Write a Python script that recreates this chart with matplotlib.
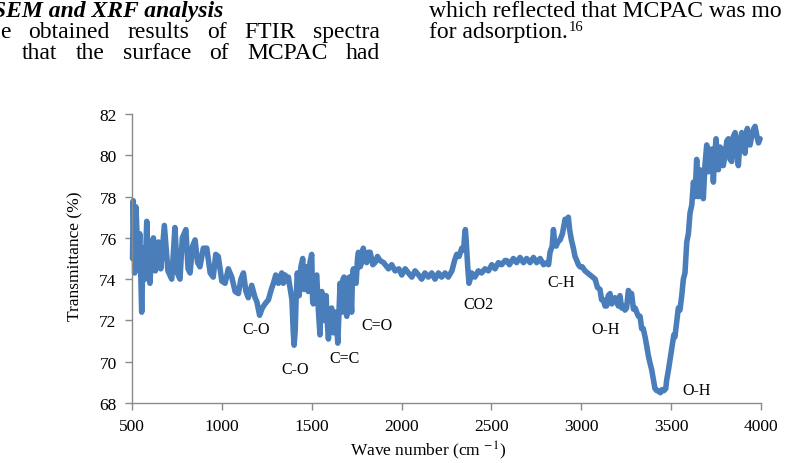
import matplotlib.pyplot as plt

# FTIR spectrum of MCPAC
wave_number = [
    503, 507, 515, 522, 535, 543, 554, 562, 572, 582, 590, 600, 610, 619, 630, 647, 660, 680, 700, 721,
    739, 752, 767, 780, 800, 812, 823, 837, 851, 865, 878, 897, 916, 935, 952, 966, 980, 1000, 1018, 1036,
    1055, 1074, 1092, 1106, 1120, 1134, 1147, 1166, 1185, 1195, 1210, 1225, 1240, 1259, 1275, 1287, 1300,
    1315, 1333, 1342, 1352, 1361, 1370, 1379, 1390, 1397, 1402, 1408, 1413, 1420, 1430, 1440, 1450, 1457,
    1463, 1472, 1481, 1490, 1500, 1505, 1509, 1518, 1528, 1537, 1546, 1552, 1556, 1565, 1574, 1580, 1586,
    1593, 1602, 1611, 1620, 1628, 1635, 1645, 1652, 1658, 1667, 1674, 1680, 1688, 1695, 1700, 1710, 1722,
    1727, 1732, 1740, 1747, 1755, 1760, 1770, 1778, 1787, 1797, 1806, 1815, 1825, 1840, 1852, 1866, 1880,
    1900, 1927, 1945, 1964, 1985, 2001, 2020, 2038, 2057, 2075, 2095, 2112, 2130, 2149, 2168, 2186, 2205,
    2223, 2242, 2260, 2280, 2295, 2307, 2320, 2335, 2345, 2350, 2355, 2360, 2368, 2375, 2382, 2390, 2408,
    2427, 2445, 2464, 2483, 2502, 2520, 2539, 2557, 2576, 2585, 2600, 2622, 2640, 2659, 2678, 2696, 2715,
    2734, 2752, 2771, 2790, 2808, 2818, 2826, 2838, 2845, 2852, 2860, 2870, 2882, 2895, 2910, 2920, 2928,
    2935, 2945, 2956, 2965, 2975, 2984, 2993, 3005, 3021, 3035, 3049, 3063, 3077, 3090, 3104, 3113, 3123,
    3132, 3141, 3150, 3160, 3170, 3178, 3188, 3197, 3206, 3215, 3225, 3234, 3243, 3252, 3262, 3271, 3280,
    3290, 3300, 3308, 3318, 3327, 3336, 3345, 3355, 3364, 3373, 3382, 3392, 3401, 3410, 3420, 3429, 3440,
    3450, 3460, 3470, 3475, 3485, 3494, 3505, 3515, 3521, 3532, 3540, 3549, 3559, 3568, 3577, 3587, 3596,
    3605, 3615, 3624, 3633, 3642, 3652, 3660, 3670, 3679, 3688, 3698, 3707, 3717, 3726, 3735, 3742, 3750,
    3757, 3763, 3772, 3781, 3790, 3800, 3810, 3819, 3828, 3837, 3846, 3856, 3865, 3874, 3883, 3893, 3902,
    3911, 3918, 3924, 3932, 3939, 3950, 3960, 3967, 3978, 3986, 3995,
]
transmittance = [
    75.0, 77.8, 74.3, 77.5, 74.6, 76.2, 72.4, 75.5, 74.0, 76.8, 74.5, 73.8, 75.5, 76.0, 74.4, 75.8, 74.5, 76.6, 74.4, 74.0,
    76.5, 74.3, 74.0, 76.0, 76.4, 74.5, 74.3, 75.6, 75.9, 74.8, 74.6, 75.5, 75.5, 74.3, 74.1, 75.2, 75.1, 73.9, 73.8, 74.5,
    74.1, 73.4, 73.3, 74.0, 74.3, 73.4, 73.1, 73.7, 73.1, 72.9, 72.25, 72.6, 72.8, 73.0, 73.5, 73.8, 74.2,
    73.8, 74.3, 73.8, 74.2, 73.9, 74.1, 73.6, 73.0, 71.5, 70.8, 71.5, 73.0, 74.3, 73.2, 74.6, 75.0, 73.5,
    73.7, 74.6, 73.4, 74.8, 75.2, 73.0, 72.8, 74.0, 74.2, 72.5, 71.3, 73.2, 73.4, 72.0, 72.1, 73.2, 72.0,
    71.1, 72.5, 72.6, 71.4, 72.4, 72.4, 70.9, 72.5, 73.8, 72.4, 74.0, 74.1, 72.5, 72.2, 74.0, 74.1, 72.4,
    74.2, 74.5, 73.9, 73.8, 75.0, 75.3, 74.6, 74.8, 75.5, 74.9, 74.8, 75.3, 75.3, 74.7, 74.8, 75.1, 74.9,
    74.8, 74.5, 74.7, 74.4, 74.5, 74.2, 74.5, 74.3, 74.1, 74.4, 74.2, 74.0, 74.3, 74.1, 74.3, 74.0, 74.3,
    74.1, 74.3, 74.1, 74.4, 74.9, 75.2, 75.1, 75.5, 75.4, 76.0, 76.4, 75.8, 74.6, 73.8, 74.0, 74.3, 74.1,
    74.4, 74.3, 74.5, 74.4, 74.7, 74.5, 74.8, 74.7, 74.9, 74.9, 74.7, 75.0, 74.8, 75.05, 74.8, 75.0, 74.8,
    75.05, 74.8, 75.0, 74.7, 74.8, 74.7, 75.3, 75.6, 76.4, 75.8, 75.6, 75.8, 75.9, 76.2, 76.9, 76.7, 77.0,
    76.4, 75.9, 75.5, 75.1, 74.9, 74.7, 74.6, 74.6, 74.4, 74.3, 74.2, 74.1, 74.0, 73.6, 73.5, 73.0, 73.0,
    72.7, 72.7, 73.2, 73.3, 72.8, 72.9, 73.1, 73.0, 72.7, 73.2, 72.6, 72.7, 72.5, 72.6, 73.45, 73.3, 73.3,
    72.55, 72.6, 72.4, 72.2, 72.2, 71.6, 71.6, 71.2, 70.77, 70.3, 69.95, 69.6, 69.16, 68.7, 68.6, 68.6, 68.5,
    68.65, 68.6, 68.7, 69.1, 69.6, 70.1, 70.7, 71.3, 71.2, 72.0, 72.6, 72.5, 73.2, 74.0, 74.3, 75.8, 76.2,
    77.2, 77.6, 78.7, 78.0, 79.8, 78.0, 79.3, 79.0, 77.9, 79.5, 80.5, 79.2, 79.6, 80.3, 78.7, 80.0, 80.8,
    79.5, 79.3, 80.4, 80.3, 79.5, 80.0, 80.7, 80.8, 79.8, 79.7, 80.9, 81.1, 80.2, 79.5, 80.7, 81.1, 80.3,
    80.1, 80.9, 81.3, 80.6, 80.5, 81.0, 81.3, 81.4, 80.9, 80.6, 80.8,
]

# band labels and where they sit (wave number, transmittance)
band_labels = ['C-O', 'C-O', 'C=C', 'C=O', 'CO2', 'C-H', 'O-H', 'O-H']
band_x = [1192, 1407, 1685, 1865, 2427, 2886, 3138, 3642]
band_y = [71.6, 69.65, 70.2, 71.8, 72.8, 73.85, 71.6, 68.65]

plt.rcParams['font.family'] = 'Liberation Serif'
plt.rcParams['mathtext.fontset'] = 'stix'

W, H = 787, 464
fig = plt.figure(figsize=(W / 100, H / 100), dpi=100)
ax = fig.add_axes([132 / W, 1 - 404 / H, (761 - 132) / W, (404 - 115) / H])

ax.plot(wave_number, transmittance, color='#4a7ebb', lw=4,
        solid_joinstyle='round', solid_capstyle='round', clip_on=False)

ax.set_xlim(500, 4000)
ax.set_ylim(68, 82)
ax.set_xticks(range(500, 4001, 500))
ax.set_yticks(range(68, 83, 2))

axis_grey = '#8a8a8a'
for side in ['top', 'right']:
    ax.spines[side].set_visible(False)
for side in ['left', 'bottom']:
    ax.spines[side].set_color(axis_grey)
    ax.spines[side].set_linewidth(1.0)
ax.tick_params(direction='out', length=5, width=1, color=axis_grey,
               labelsize=12.5, pad=6)

for lab, bx, by in zip(band_labels, band_x, band_y):
    ax.text(bx, by, lab, fontsize=11.5, ha='center', va='center')

fig.text(428 / W, 1 - 451 / H, 'Wave number (cm $^{-1}$)', fontsize=12.5,
         ha='center', va='center')
fig.text(75 / W, 1 - 256 / H, 'Transmittance (%)', fontsize=12.5,
         ha='center', va='center', rotation=90)

# bits of the surrounding page text (justified column)
fs = 17
renderer = fig.canvas.get_renderer()

def justify(words, x0, x1, base):
    texts = [fig.text(0, 1 - base / H, w, fontsize=fs, va='baseline', ha='left')
             for w in words]
    widths = [t.get_window_extent(renderer).width for t in texts]
    gap = (x1 - x0 - sum(widths)) / (len(words) - 1)
    x = x0
    for t, w in zip(texts, widths):
        t.set_x(x / W)
        x += w + gap

fig.text(223 / W, 1 - 17 / H, 'SEM and XRF analysis', fontsize=fs,
         fontweight='bold', fontstyle='italic', va='baseline', ha='right')
justify(['e', 'obtained', 'results', 'of', 'FTIR', 'spectra'], 0, 380, 38)
justify(['that', 'the', 'surface', 'of', 'MCPAC', 'had'], 22, 380, 59)
fig.text(429 / W, 1 - 17 / H, 'which reflected that MCPAC was mo', fontsize=fs,
         va='baseline', ha='left')
ads = fig.text(429 / W, 1 - 38 / H, 'for adsorption.', fontsize=fs,
               va='baseline', ha='left')
ads_w = ads.get_window_extent(renderer).width
fig.text((429 + ads_w + 1) / W, 1 - 31 / H, '16', fontsize=10.5,
         va='baseline', ha='left')

fig.savefig('out.png', dpi=100)
